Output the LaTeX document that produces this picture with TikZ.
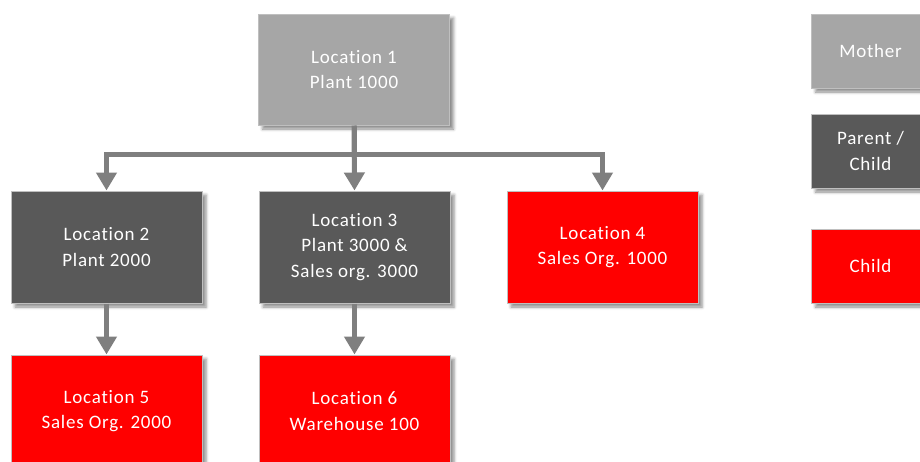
\documentclass[tikz,border=0pt]{standalone}
\usepackage{fontspec}
\setmainfont{Carlito}[Ligatures=NoCommon, LetterSpace=4]
\usetikzlibrary{arrows.meta,shadows.blur}
\definecolor{mothergray}{HTML}{A6A6A6}
\definecolor{parentgray}{HTML}{595959}
\definecolor{childred}{HTML}{FF0000}
\definecolor{edgegray}{HTML}{BFBFBF}
\definecolor{conngray}{HTML}{7F7F7F}
\tikzset{
  box/.style={draw=edgegray, line width=1pt, text=white, align=center,
    minimum width=191pt, minimum height=112pt, inner sep=0pt,
    font=\fontsize{19}{25.5}\selectfont,
    blur shadow={shadow xshift=4pt, shadow yshift=-4pt, shadow blur radius=3pt, shadow opacity=45}},
  mother/.style={box, fill=mothergray},
  parent/.style={box, fill=parentgray},
  child/.style={box, fill=childred},
  legend/.style={minimum width=118pt, minimum height=74pt},
  conn/.style={draw=conngray, line width=5pt,
    -{Triangle[width=20pt,length=18pt]}}
}
\begin{document}
\begin{tikzpicture}[x=1pt,y=-1pt]
\useasboundingbox (0,0) rectangle (920,461);
\begin{scope}
\clip (0,0) rectangle (920,461);
\node[mother, minimum height=111pt] (l1) at (354,69.5) {Location 1\\Plant 1000};
\node[parent] (l2) at (106.5,247) {Location 2\\Plant 2000};
\node[parent] (l3) at (354.5,247) {Location 3\\Plant 3000 \&\\Sales org. 3000};
\node[child] (l4) at (602.5,247) {Location 4\\Sales Org. 1000};
\node[child] (l5) at (106.5,411) {Location 5\\Sales Org. 2000};
\node[child] (l6) at (354.5,411) {Location 6\\Warehouse 100};
\node[mother, legend] (lm) at (870.5,51) {Mother};
\node[parent, legend] (lp) at (870.5,151) {Parent /\\Child};
\node[child, legend] (lc) at (870.5,266) {Child};
\coordinate (bus) at (354,154);
\draw[conn] (l1.south) -- (bus) -| (l2.north);
\draw[conn] (l1.south) -- (bus) -| (l4.north);
\draw[conn] (l1.south) -- (l3.north);
\draw[conn] (l2.south) -- (l5.north);
\draw[conn] (l3.south) -- (l6.north);
\end{scope}
\end{tikzpicture}
\end{document}
